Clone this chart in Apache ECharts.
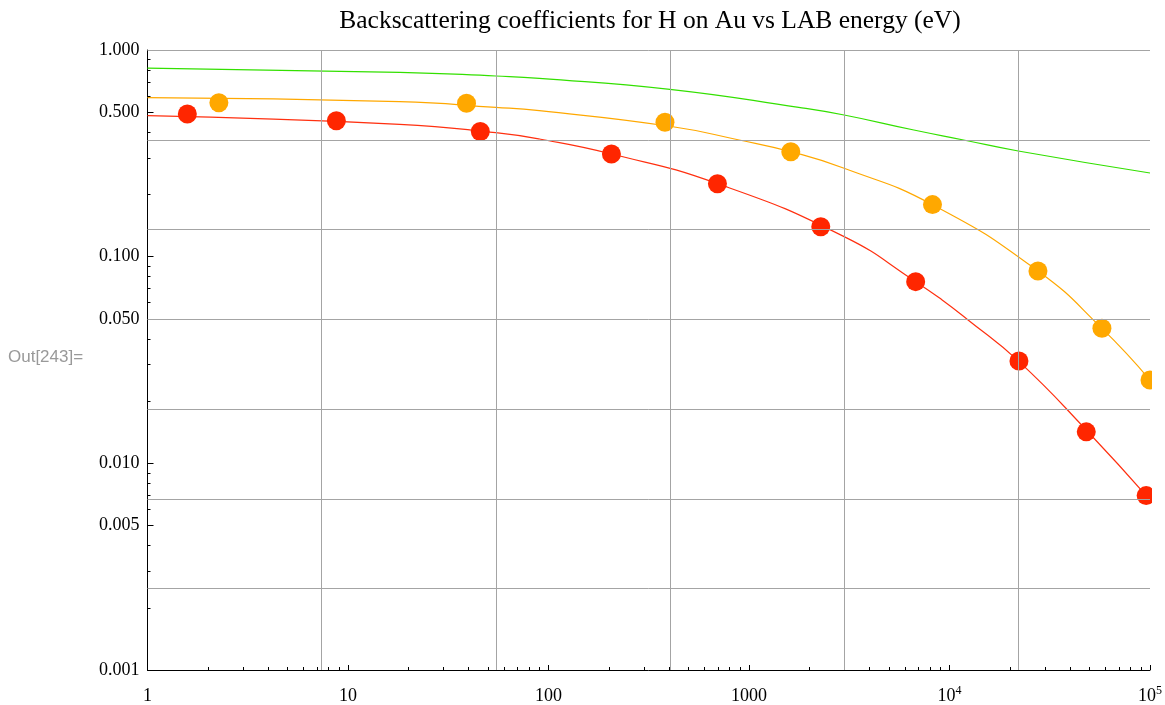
<!DOCTYPE html>
<html>
<head>
<meta charset="utf-8">
<script src="https://cdn.jsdelivr.net/npm/echarts@6/dist/echarts.min.js"></script>
<style>
  html, body { margin: 0; padding: 0; background: #fff; }
  #chart { width: 1165px; height: 705px; }
</style>
</head>
<body>
<div id="chart"></div>
<script>
// Measured backscattering coefficients (LAB energy in eV)
const redEnergy = [1.58, 8.75, 45.7, 206, 696, 2280, 6780, 22200, 48100, 95700];
const redCoef = [0.490, 0.455, 0.403, 0.314, 0.2255, 0.1397, 0.0757, 0.0313, 0.0142, 0.00698];
const orangeEnergy = [2.27, 39.0, 381, 1616, 8226, 27620, 57580, 100000];
const orangeCoef = [0.556, 0.552, 0.447, 0.322, 0.1786, 0.0852, 0.0450, 0.0253];

// Fitted curves
const redFitEnergy = [1, 18.1, 54.6, 90, 206, 696, 2981, 6776, 9190, 12240, 22026, 48100, 100000];
const redFitCoef = [0.481, 0.437, 0.398, 0.371, 0.314, 0.2255, 0.125, 0.0757, 0.0617, 0.0498, 0.0313, 0.0145, 0.00665];
const orangeFitEnergy = [1, 18.1, 54.6, 90, 403, 893, 1616, 2981, 8226, 27610, 57580, 100000];
const orangeFitCoef = [0.588, 0.562, 0.528, 0.5086, 0.4275, 0.367, 0.322, 0.2678, 0.1785, 0.0852, 0.0450, 0.0253];
const greenFitEnergy = [1, 18.1, 54.6, 90, 403, 1770, 2981, 6640, 11750, 22026, 100000];
const greenFitCoef = [0.818, 0.780, 0.7485, 0.7296, 0.6454, 0.528, 0.4848, 0.410, 0.367, 0.3246, 0.254];

// Axis ticks
const xMajorTicks = [1, 10, 100, 1000, 10000, 100000];
const yMajorTicks = [0.001, 0.005, 0.01, 0.05, 0.1, 0.5, 1];
const xMinorTicks = [];
[1, 10, 100, 1000, 10000].forEach(d => { for (let m = 2; m <= 9; m++) xMinorTicks.push(d * m); });
const yMinorTicks = [];
[0.001, 0.01, 0.1].forEach(d => {
  for (let m = 2; m <= 9; m++) if (m !== 5) yMinorTicks.push(Number((d * m).toPrecision(3)));
});

// Grid lines sit at powers of e
const gridXExp = [2, 4, 6, 8, 10];
const gridYExp = [0, -1, -2, -3, -4, -5, -6];

const serif = '"Liberation Serif", "Times New Roman", serif';
const pair = (xs, ys) => xs.map((x, i) => [x, ys[i]]);

const chart = echarts.init(document.getElementById('chart'), null, { renderer: 'canvas' });

const axisBlack = { lineStyle: { color: '#000', width: 1 } };

const fitLine = (name, color, xs, ys) => ({
  name, type: 'line', z: 2, smooth: 0.5, showSymbol: false,
  lineStyle: { color, width: 1.2 },
  data: pair(xs, ys)
});

chart.setOption({
  animation: false,
  backgroundColor: '#fff',
  grid: { left: 147.5, top: 50, width: 1003.5, height: 620, containLabel: false },
  xAxis: [
    {
      type: 'log', logBase: 10, min: 1, max: 100000, position: 'bottom',
      axisLine: axisBlack,
      axisTick: { inside: true, length: 5, customValues: xMajorTicks, lineStyle: { color: '#000' } },
      axisLabel: {
        customValues: xMajorTicks,
        margin: 15,
        color: '#000',
        formatter: v => {
          const e = Math.round(Math.log10(v));
          return e >= 4 ? '{b|10}{s|' + e + '}' : '{b|' + Math.round(v) + '}';
        },
        rich: {
          b: { fontFamily: serif, fontSize: 18, color: '#000', lineHeight: 20, verticalAlign: 'bottom' },
          s: { fontFamily: serif, fontSize: 12, color: '#000', lineHeight: 12, verticalAlign: 'top' }
        }
      },
      splitLine: { show: false }
    },
    {
      type: 'log', logBase: 10, min: 1, max: 100000, position: 'bottom',
      axisLine: { show: false },
      axisTick: { inside: true, length: 3, customValues: xMinorTicks, lineStyle: { color: '#000' } },
      axisLabel: { show: false },
      splitLine: { show: false }
    }
  ],
  yAxis: [
    {
      type: 'log', logBase: 10, min: 0.001, max: 1, position: 'left',
      axisLine: axisBlack,
      axisTick: { inside: true, length: 6, customValues: yMajorTicks, lineStyle: { color: '#000' } },
      axisLabel: {
        customValues: yMajorTicks,
        margin: 8,
        color: '#000',
        fontFamily: serif,
        fontSize: 18,
        formatter: v => v.toFixed(3)
      },
      splitLine: { show: false }
    },
    {
      type: 'log', logBase: 10, min: 0.001, max: 1, position: 'left',
      axisLine: { show: false },
      axisTick: { inside: true, length: 3, customValues: yMinorTicks, lineStyle: { color: '#000' } },
      axisLabel: { show: false },
      splitLine: { show: false }
    }
  ],
  series: [
    {
      name: 'grid',
      type: 'line',
      data: [],
      z: 1,
      silent: true,
      markLine: {
        silent: true,
        precision: 8,
        symbol: ['none', 'none'],
        label: { show: false },
        lineStyle: { color: '#a4a4a4', width: 1, type: 'solid' },
        emphasis: { disabled: true },
        data: gridXExp.map(k => ({ xAxis: Math.exp(k) }))
          .concat(gridYExp.map(k => ({ yAxis: Math.exp(k) })))
      }
    },
    fitLine('green fit', '#33e000', greenFitEnergy, greenFitCoef),
    fitLine('orange fit', '#ffa800', orangeFitEnergy, orangeFitCoef),
    fitLine('red fit', '#ff3010', redFitEnergy, redFitCoef),
    {
      name: 'orange', type: 'scatter', z: 3, clip: false, symbolSize: 19,
      itemStyle: { color: '#ffa800', opacity: 1 },
      data: pair(orangeEnergy, orangeCoef)
    },
    {
      name: 'red', type: 'scatter', z: 3, clip: false, symbolSize: 19,
      itemStyle: { color: '#ff2600', opacity: 1 },
      data: pair(redEnergy, redCoef)
    }
  ],
  graphic: [
    {
      type: 'rect', z: 100, silent: true,
      shape: { x: 1152, y: 30, width: 20, height: 638 },
      style: { fill: '#fff' }
    },
    {
      type: 'text', z: 100, x: 650, y: 21,
      style: {
        text: 'Backscattering coefficients for H on Au vs LAB energy (eV)',
        fontFamily: serif, fontSize: 25.5, fill: '#000',
        textAlign: 'center', textVerticalAlign: 'middle'
      }
    },
    {
      type: 'text', z: 100, x: 8, y: 357,
      style: {
        text: 'Out[243]=',
        fontFamily: '"Liberation Sans", Arial, sans-serif', fontSize: 17, fill: '#999',
        textAlign: 'left', textVerticalAlign: 'middle'
      }
    }
  ]
});
</script>
</body>
</html>
